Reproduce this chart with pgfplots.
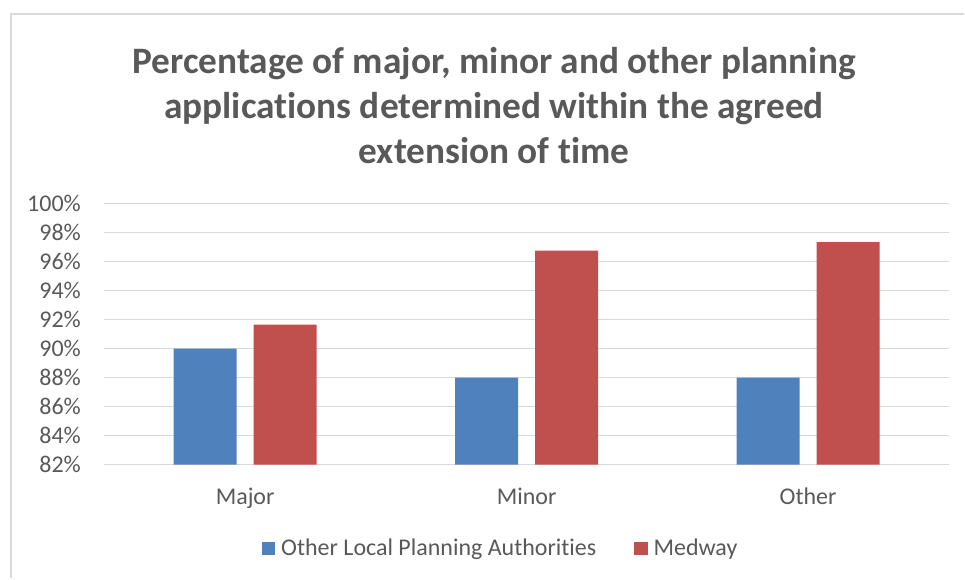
\documentclass[border=0pt]{standalone}
\usepackage{fontspec}
\setmainfont{Carlito}[Ligatures=NoCommon]
\usepackage{pgfplots}
\pgfplotsset{compat=1.18}
\definecolor{TextGray}{HTML}{595959}
\definecolor{GridGray}{HTML}{D9D9D9}
\definecolor{FrameGray}{HTML}{D9D9D9}
\definecolor{BarBlue}{HTML}{4F81BD}
\definecolor{BarRed}{HTML}{C0504D}
\newcommand{\ti}{t\kern0pt i}

\begin{document}
\begin{tikzpicture}
% page size 965x579 px at 0.75pt per px
\path (0pt,0pt) rectangle (723.75pt,434.25pt);
\draw[FrameGray, line width=1.5pt] (8.25pt,0pt) -- (8.25pt,424pt) -- (723.75pt,424pt);
\node[font=\fontsize{28}{34}\selectfont\bfseries, text=TextGray, align=center, anchor=center]
  at (370.9pt,355pt)
  {Percentage of major, minor and other planning\\applica\ti ons determined within the agreed\\extension of \ti me};
\begin{axis}[
    at={(78.375pt,85.5pt)}, anchor=south west,
    scale only axis,
    width=634pt, height=195.75pt,
    ybar=12.75pt,
    bar width=47.25pt,
    xmin=-0.5, xmax=2.5,
    ymin=82, ymax=100,
    xtick={0,1,2},
    xticklabels={Major,Minor,Other},
    ytick={82,84,...,100},
    yticklabel={\pgfmathprintnumber{\tick}\%},
    /pgf/number format/assume math mode=true,
    ymajorgrids=true,
    grid style={GridGray, line width=1pt},
    axis line style={draw=none},
    major tick length=0pt,
    tick label style={font=\fontsize{18}{21}\selectfont, text=TextGray},
    yticklabel style={anchor=east, inner sep=0pt, xshift=-17.5pt},
    xticklabel style={anchor=north, inner sep=0pt, yshift=-17.5pt},
    legend columns=2,
    legend style={at={(0.4716,-0.322)}, anchor=center, draw=none,
        font=\fontsize{18}{21}\selectfont, text=TextGray,
        /tikz/every even column/.append style={column sep=24pt},
        /tikz/every odd column/.append style={column sep=0pt},
        nodes={inner xsep=4.5pt}},
    legend image code/.code={\fill[#1] (0pt,-5pt) rectangle (10pt,5pt);},
]
\addplot[fill=BarBlue, draw=none] coordinates {(0,90) (1,88) (2,88)};
\addplot[fill=BarRed, draw=none] coordinates {(0,91.66) (1,96.76) (2,97.36)};
\legend{Other Local Planning Authorities, Medway}
\end{axis}
\end{tikzpicture}
\end{document}
